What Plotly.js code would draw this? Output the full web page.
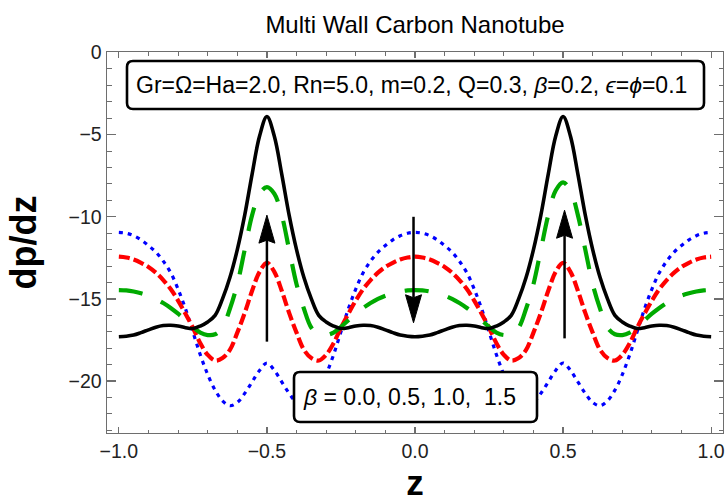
<!DOCTYPE html>
<html>
<head>
<meta charset="utf-8">
<script src="https://cdn.plot.ly/plotly-3.0.1.min.js"></script>
<style>html,body{margin:0;padding:0;background:#fff;}#chart{width:725px;height:502px;}</style>
</head>
<body>
<div id="chart"></div>
<script>
// sample positions along z
const zValues = [-1.0,-0.975,-0.95,-0.925,-0.9,-0.875,-0.85,-0.825,-0.8,-0.775,-0.75,-0.725,-0.7,-0.675,-0.65,-0.625,-0.6,-0.575,-0.55,-0.525,-0.5,
-0.475,-0.45,-0.425,-0.4,-0.375,-0.35,-0.325,-0.3,-0.275,-0.25,-0.225,-0.2,-0.175,-0.15,-0.125,-0.1,-0.075,-0.05,-0.025,0.0,
0.025,0.05,0.075,0.1,0.125,0.15,0.175,0.2,0.225,0.25,0.275,0.3,0.325,0.35,0.375,0.4,0.425,0.45,0.475,0.5,
0.525,0.55,0.575,0.6,0.625,0.65,0.675,0.7,0.725,0.75,0.775,0.8,0.825,0.85,0.875,0.9,0.925,0.95,0.975,1.0];

// beta = 0.0 (blue, dotted)
const beta00 = [-10.95,-11.0,-11.15,-11.4,-11.75,-12.15,-12.7,-13.4,-14.4,-15.6,-17.0,-18.4,-19.6,-20.55,-21.2,-21.5,-21.3,-20.75,-20.05,-19.35,-18.9,
-19.35,-20.05,-20.75,-21.3,-21.5,-21.2,-20.55,-19.6,-18.4,-17.0,-15.6,-14.4,-13.4,-12.7,-12.15,-11.75,-11.4,-11.15,-11.0,-10.95,
-11.0,-11.15,-11.4,-11.75,-12.15,-12.7,-13.4,-14.4,-15.6,-17.0,-18.4,-19.6,-20.55,-21.2,-21.5,-21.3,-20.75,-20.05,-19.35,-18.9,
-19.35,-20.05,-20.75,-21.3,-21.5,-21.2,-20.55,-19.6,-18.4,-17.0,-15.6,-14.4,-13.4,-12.7,-12.15,-11.75,-11.4,-11.15,-11.0,-10.95];

// beta = 0.5 (red, dashed)
const beta05 = [-12.43,-12.48,-12.6,-12.8,-13.05,-13.4,-13.85,-14.4,-15.1,-15.9,-16.75,-17.7,-18.4,-18.75,-18.6,-18.1,-17.05,-15.85,-14.5,-13.35,-12.8,
-13.35,-14.5,-15.85,-17.05,-18.1,-18.6,-18.75,-18.4,-17.7,-16.75,-15.9,-15.1,-14.4,-13.85,-13.4,-13.05,-12.8,-12.6,-12.48,-12.43,
-12.48,-12.6,-12.8,-13.05,-13.4,-13.85,-14.4,-15.1,-15.9,-16.75,-17.7,-18.4,-18.75,-18.6,-18.1,-17.05,-15.85,-14.5,-13.35,-12.8,
-13.35,-14.5,-15.85,-17.05,-18.1,-18.6,-18.75,-18.4,-17.7,-16.75,-15.9,-15.1,-14.4,-13.85,-13.4,-13.05,-12.8,-12.6,-12.48,-12.43];

// beta = 1.0 (green, long dashes)
const beta10 = [-14.46,-14.48,-14.55,-14.66,-14.8,-15.0,-15.25,-15.55,-15.9,-16.3,-16.7,-17.05,-17.2,-17.15,-16.75,-15.6,-14.1,-12.0,-9.9,-8.6,-8.2,
-8.6,-9.9,-12.0,-14.1,-15.6,-16.75,-17.15,-17.2,-17.05,-16.7,-16.3,-15.9,-15.55,-15.25,-15.0,-14.8,-14.66,-14.55,-14.48,-14.46,
-14.48,-14.55,-14.66,-14.8,-15.0,-15.25,-15.55,-15.9,-16.3,-16.7,-17.05,-17.2,-17.15,-16.75,-15.6,-14.1,-12.0,-9.9,-8.4,-7.9,
-8.4,-9.9,-12.0,-14.1,-15.6,-16.75,-17.15,-17.2,-17.05,-16.7,-16.3,-15.9,-15.55,-15.25,-15.0,-14.8,-14.66,-14.55,-14.48,-14.46];

// beta = 1.5 (black, solid)
const beta15 = [-17.3,-17.27,-17.2,-17.05,-16.88,-16.72,-16.62,-16.6,-16.65,-16.75,-16.8,-16.65,-16.4,-16.0,-15.0,-13.7,-12.0,-9.9,-7.4,-5.1,-3.9,
-5.1,-7.4,-9.9,-12.0,-13.7,-15.0,-16.0,-16.4,-16.65,-16.8,-16.75,-16.65,-16.6,-16.62,-16.72,-16.88,-17.05,-17.2,-17.27,-17.3,
-17.27,-17.2,-17.05,-16.88,-16.72,-16.62,-16.6,-16.65,-16.75,-16.8,-16.65,-16.4,-16.0,-15.0,-13.7,-12.0,-9.9,-7.4,-5.1,-3.9,
-5.1,-7.4,-9.9,-12.0,-13.7,-15.0,-16.0,-16.4,-16.65,-16.8,-16.75,-16.65,-16.6,-16.62,-16.72,-16.88,-17.05,-17.2,-17.27,-17.3];

// arrows (direction of increasing beta)
const arrowX    = [-0.5, -0.005, 0.505];
const arrowTail = [-17.6, -10.0, -17.4];
const arrowTip  = [-9.9, -16.45, -9.6];

const titleText = 'Multi Wall Carbon Nanotube';
const paramText = 'Gr=\u03A9=Ha=2.0, Rn=5.0, m=0.2, Q=0.3, <i>\u03B2</i>=0.2, <i>\u03F5</i>=<i>\u03D5</i>=0.1';
const betaText  = '<i>\u03B2</i> = 0.0, 0.5, 1.0,  1.5';

const FONT = '"Liberation Sans", Arial, Helvetica, sans-serif';
const W = 725, H = 502;
const M = {l:107, r:2, t:52, b:69};
const XR = [-1.04, 1.04], YR = [-23.16, 0.03];
const plotW = W - M.l - M.r, plotH = H - M.t - M.b;
const pxPerX = plotW / (XR[1]-XR[0]);
const pxPerY = plotH / (YR[1]-YR[0]);

function px2paperX(p){ return (p - M.l)/plotW; }
function px2paperY(p){ return (H - M.b - p)/plotH; }

function roundBox(x0,y0,x1,y1,r){
  const X = px2paperX, Y = px2paperY;
  const p = 'M' + X(x0+r) + ',' + Y(y0) +
    ' L' + X(x1-r) + ',' + Y(y0) +
    ' Q' + X(x1) + ',' + Y(y0) + ' ' + X(x1) + ',' + Y(y0+r) +
    ' L' + X(x1) + ',' + Y(y1-r) +
    ' Q' + X(x1) + ',' + Y(y1) + ' ' + X(x1-r) + ',' + Y(y1) +
    ' L' + X(x0+r) + ',' + Y(y1) +
    ' Q' + X(x0) + ',' + Y(y1) + ' ' + X(x0) + ',' + Y(y1-r) +
    ' L' + X(x0) + ',' + Y(y0+r) +
    ' Q' + X(x0) + ',' + Y(y0) + ' ' + X(x0+r) + ',' + Y(y0) + ' Z';
  return {type:'path', xref:'paper', yref:'paper', path:p, layer:'above',
          fillcolor:'#ffffff', line:{color:'#000', width:2.6}};
}

const shapes = [];
const headLen = 28/pxPerY, headHalf = 8/pxPerX, notch = 3/pxPerY;
for (let i=0;i<arrowX.length;i++){
  const x = arrowX[i], t = arrowTail[i], tip = arrowTip[i];
  const dir = tip > t ? 1 : -1;
  const base = tip - dir*headLen;
  shapes.push({type:'line', xref:'x', yref:'y', x0:x, x1:x, y0:t, y1:base + dir*notch,
               layer:'above', line:{color:'#000', width:2.5}});
  shapes.push({type:'path', xref:'x', yref:'y', layer:'above',
    path:'M'+x+','+tip+' L'+(x-headHalf)+','+base+' L'+x+','+(base+dir*notch)+' L'+(x+headHalf)+','+base+' Z',
    fillcolor:'#000', line:{color:'#000', width:1}});
}
shapes.push(roundBox(127,61,704,109,6));
shapes.push(roundBox(294,372,537,422,6));

const traces = [
  {x:zValues, y:beta00, mode:'lines', line:{color:'#0000ff', width:3.2, dash:'4px,5px', shape:'spline'}},
  {x:zValues, y:beta05, mode:'lines', line:{color:'#ff0000', width:4.2, dash:'11px,4px', shape:'spline'}},
  {x:zValues, y:beta10, mode:'lines', line:{color:'#00aa00', width:4.2, dash:'24px,20px', shape:'spline'}},
  {x:zValues, y:beta15, mode:'lines', line:{color:'#000000', width:3.6, shape:'spline'}}
];

const axisCommon = {
  showline:true, linecolor:'#6e6e6e', linewidth:1.4, mirror:'allticks',
  ticks:'inside', tickcolor:'#6e6e6e', tickwidth:1.2,
  showgrid:false, zeroline:false,
  tickfont:{family:FONT, size:19.5, color:'#222'}
};

const layout = {
  width:W, height:H, margin:M, showlegend:false,
  paper_bgcolor:'#fff', plot_bgcolor:'#fff',
  font:{family:FONT, color:'#000'},
  title:{text:titleText, font:{family:FONT, size:24, color:'#000'},
         x:0.5, xref:'paper', xanchor:'center', y:1-25/H, yref:'container', yanchor:'middle'},
  xaxis:Object.assign({}, axisCommon, {
    range:XR, tick0:0, dtick:0.5, tickformat:'.1f', ticklen:6,
    minor:{ticks:'inside', dtick:0.1, tick0:0, ticklen:3.5, tickcolor:'#6e6e6e', tickwidth:1},
    title:{text:'<b>z</b>', font:{family:FONT, size:35, color:'#000'}, standoff:15}
  }),
  yaxis:Object.assign({}, axisCommon, {
    range:YR, tick0:0, dtick:5, ticklen:9,
    minor:{ticks:'inside', dtick:1, tick0:0, ticklen:4.5, tickcolor:'#6e6e6e', tickwidth:1},
    title:{text:'<b>dp/dz</b>', font:{family:FONT, size:36, color:'#000'}, standoff:21}
  }),
  shapes:shapes,
  annotations:[
    {xref:'paper', yref:'paper', x:px2paperX(411.5), y:px2paperY(85), xanchor:'center', yanchor:'middle',
     text:paramText, showarrow:false, font:{family:FONT, size:23, color:'#000'}},
    {xref:'paper', yref:'paper', x:px2paperX(409), y:px2paperY(397), xanchor:'center', yanchor:'middle',
     text:betaText, showarrow:false, font:{family:FONT, size:23, color:'#000'}}
  ]
};

Plotly.newPlot('chart', traces, layout, {displayModeBar:false, staticPlot:true});
</script>
</body>
</html>
